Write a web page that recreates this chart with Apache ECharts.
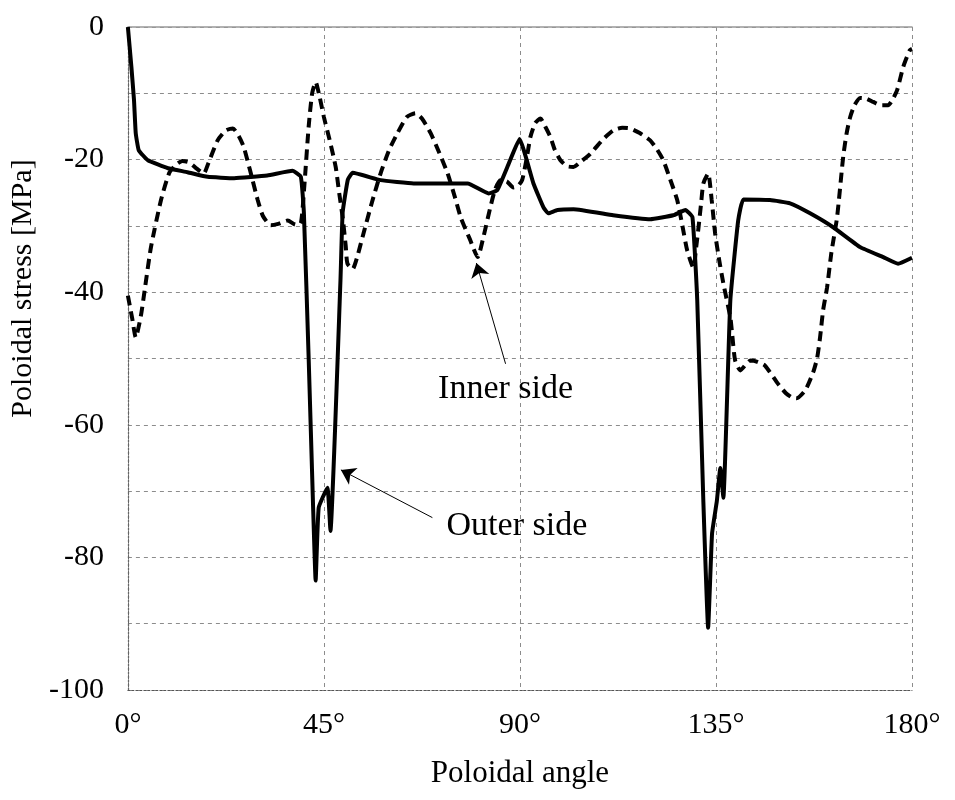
<!DOCTYPE html>
<html>
<head>
<meta charset="utf-8">
<script src="https://cdn.jsdelivr.net/npm/echarts@6/dist/echarts.min.js"></script>
<style>
html,body{margin:0;padding:0;background:#fff;}
#chart{width:955px;height:800px;}
</style>
</head>
<body>
<div id="chart"></div>
<script>
// ---- data (poloidal angle in degrees, stress in MPa) ----
const outerAngle = [0, 0.8, 1.4, 1.8, 2.5, 4.6, 9.2, 13.7, 18.3, 24.4, 32, 37.8, 39.7, 40.4, 41.5, 42.5, 43.1, 43.8, 45.8, 46.5, 48.8, 49.3, 50.5, 51.6, 58, 65.6, 78, 82.8, 84.8, 87.5, 89.9, 93.1, 95.4, 96.5, 98.6, 102.3, 111.4, 119.9, 125.2, 128, 129.6, 130.7, 132.1, 133.2, 134.1, 135.2, 136, 136.7, 138.3, 140.1, 141.3, 147.4, 152, 156.6, 161.9, 168.1, 173.4, 176.8, 180];
const outerStress = [0, -6, -11, -16, -18.6, -20.1, -21.3, -21.9, -22.6, -22.8, -22.4, -21.7, -22.6, -28, -50, -72, -83.5, -72.5, -69.5, -76, -38.2, -28, -23, -22, -23.1, -23.6, -23.6, -25.1, -24.6, -20.5, -16.9, -23.6, -27.2, -28.1, -27.6, -27.5, -28.4, -29, -28.4, -27.6, -28.7, -41.2, -71.5, -90.6, -76.4, -71.5, -66.5, -71, -41.2, -29.2, -26, -26.1, -26.6, -28.1, -30.2, -33.2, -34.7, -35.7, -34.8];

const innerAngle = [0, 1, 1.8, 3, 4, 5.3, 7.6, 9.5, 11, 12.5, 14, 15.5, 17.4, 18.5, 20.6, 22.5, 24.1, 25.5, 26.6, 28, 29.8, 31, 32.8, 34.5, 36.7, 38.5, 39.7, 40.5, 41.5, 42.3, 43.1, 44, 45, 46.3, 47.7, 48.5, 49.3, 50, 50.4, 51.6, 52.5, 54.1, 56, 58, 60, 61.9, 64, 66, 67.5, 69.5, 71.5, 73.4, 75, 76.4, 78.5, 80.3, 81.5, 83.2, 84.3, 85.5, 87, 88.5, 89.5, 90.5, 91.5, 92.4, 93.5, 94.7, 95.8, 97, 98, 99.3, 100.8, 102.3, 104, 106.2, 109, 111.4, 113.5, 115.3, 117.5, 119.9, 121.5, 122.9, 124.5, 126.1, 127.3, 128.4, 129.8, 130.5, 131, 131.6, 132.1, 133.2, 134, 134.8, 135.7, 136.7, 138.3, 138.7, 139.4, 140.6, 142, 142.9, 144.5, 146.3, 149, 151, 152.5, 153.5, 155.5, 157.3, 158.2, 158.9, 159.6, 160.5, 161.5, 162.8, 164.2, 165, 165.8, 166.8, 168.1, 169.5, 171.1, 172.8, 174.5, 175.5, 176.6, 178, 179.5, 180];
const innerStress = [-40.5, -44, -46.8, -43.5, -39, -33.2, -26.1, -22, -20.8, -20.2, -20.4, -21.2, -22.1, -20.5, -17.1, -15.6, -15.3, -16.5, -18.1, -21.5, -26.1, -28.5, -29.9, -29.7, -29.2, -29.8, -29.6, -24, -15, -10, -8.3, -10.5, -13.6, -17, -21.1, -25, -28.7, -33, -35.7, -36.5, -35, -31.1, -26.5, -22.1, -18.5, -16, -13.6, -13, -13.8, -16, -19, -22.1, -25.5, -28.7, -32, -34.7, -32, -27.2, -24.5, -23.1, -23.3, -24.2, -24, -23.1, -20, -16.6, -14.5, -13.8, -15, -16.6, -18.5, -20.1, -21, -21.1, -20.3, -19.1, -17, -15.6, -15.2, -15.3, -16, -17.1, -18.5, -20.1, -23, -26.1, -30, -33.7, -36.3, -33, -30.2, -26.5, -23.6, -22.1, -26, -31.1, -35, -38.7, -43.8, -46.2, -50.3, -51.8, -50.8, -50.3, -50.5, -51.1, -53.6, -55.2, -55.9, -56, -54.8, -52.1, -50, -46.8, -42.7, -39.3, -34, -28.7, -19.6, -16, -13.6, -11.8, -10.7, -10.8, -11.3, -11.8, -11.8, -11, -9.5, -6, -3.5, -3.3];

const xTicks = [0, 45, 90, 135, 180];
const yLabelStep = 20;

// annotation texts and arrows in data coordinates [angle, stress]
const annotLabels = ['Inner side', 'Outer side'];
const annotTextPos = [[86.7, -54.6], [89.3, -75.3]];
const arrowFrom = [[86.7, -50.8], [69.9, -74.0]];
const arrowTo = [[80.0, -35.6], [48.9, -66.8]];

// ---- chart ----
const FONT = "'Liberation Serif', 'Times New Roman', serif";
const chart = echarts.init(document.getElementById('chart'), null, {renderer: 'canvas'});

const pair = (xs, ys) => xs.map((x, i) => [x, ys[i]]);
const gridLine = {show: true, lineStyle: {color: '#8c8c8c', type: [4, 4], width: 1}};
const arrowMark = (from, to) => ({
  silent: true, symbol: ['none', 'arrow'], symbolSize: 14, symbolOffset: 0,
  itemStyle: {color: '#000'},
  lineStyle: {color: '#000', width: 1, type: 'solid'}, label: {show: false},
  data: [[{coord: from}, {coord: to}]]
});

const option = {
  animation: false,
  backgroundColor: '#ffffff',
  grid: {left: 127, right: 43, top: 27, bottom: 110, containLabel: false},
  xAxis: [{
    type: 'value', min: 0, max: 180, interval: 45,
    axisLine: {show: true, onZero: false, lineStyle: {color: '#555', type: [2, 2], width: 1}},
    axisTick: {show: false},
    splitLine: gridLine,
    axisLabel: {formatter: v => xTicks.includes(v) ? v + '°' : '', color: '#000', fontFamily: FONT, fontSize: 30, margin: 20},
    name: 'Poloidal angle', nameLocation: 'middle', nameGap: 68,
    nameTextStyle: {color: '#000', fontFamily: FONT, fontSize: 31}
  }, {
    type: 'value', min: 0, max: 180, position: 'top',
    axisLine: {show: true, lineStyle: {color: '#999', width: 1.5}},
    axisTick: {show: false}, axisLabel: {show: false}, splitLine: {show: false}
  }],
  yAxis: [{
    type: 'value', min: -100, max: 0, interval: 10,
    axisLine: {show: true, onZero: false, lineStyle: {color: '#444', type: [2, 2], width: 1.2}},
    axisTick: {show: false},
    splitLine: gridLine,
    axisLabel: {formatter: v => (v % yLabelStep === 0) ? String(v) : '', color: '#000', fontFamily: FONT, fontSize: 30, margin: 24},
    name: 'Poloidal stress [MPa]', nameLocation: 'middle', nameGap: 74, nameRotate: 90,
    nameTextStyle: {color: '#000', fontFamily: FONT, fontSize: 30, padding: [0, 0, 0, 140]}
  }, {
    type: 'value', min: -100, max: 0, interval: 10, position: 'right',
    axisLine: {show: true, lineStyle: {color: '#666', type: [2, 2], width: 1}},
    axisTick: {show: false}, axisLabel: {show: false}, splitLine: {show: false}
  }],
  series: [{
    name: 'Outer side', type: 'line', data: pair(outerAngle, outerStress),
    showSymbol: false, smooth: 0.12, z: 3,
    lineStyle: {color: '#000', width: 4, join: 'round'},
    markLine: arrowMark(arrowFrom[1], arrowTo[1])
  }, {
    name: 'Inner side', type: 'line', data: pair(innerAngle, innerStress),
    showSymbol: false, smooth: 0.2, z: 2,
    lineStyle: {color: '#000', width: 4, type: [10, 6]},
    markLine: arrowMark(arrowFrom[0], arrowTo[0])
  }, {
    name: 'labels', type: 'scatter', symbolSize: 0, silent: true, z: 5,
    itemStyle: {color: '#000', opacity: 1},
    data: annotLabels.map((t, i) => ({name: t, value: annotTextPos[i]})),
    label: {show: true, position: 'inside', formatter: p => p.name, color: '#000', opacity: 1,
      textBorderWidth: 0, textShadowBlur: 0, fontFamily: FONT, fontSize: 34}
  }]
};
chart.setOption(option);
</script>
</body>
</html>
